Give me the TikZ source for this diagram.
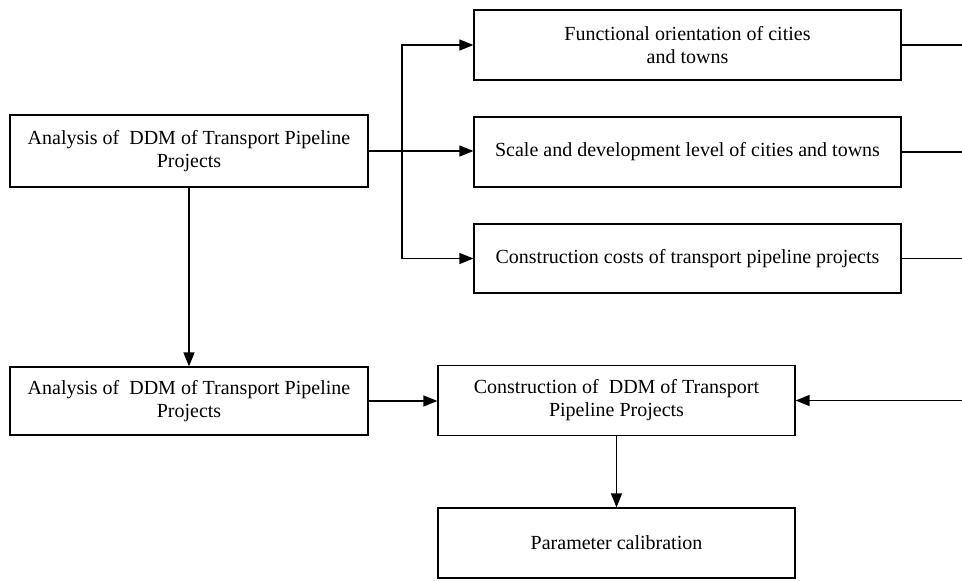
\documentclass[tikz,border=0pt]{standalone}
\usepackage{fontspec}
\setmainfont{Liberation Serif}
\usetikzlibrary{arrows.meta}
\begin{document}
\begin{tikzpicture}[x=1pt,y=-1pt,
  box/.style={draw, line width=1.2pt, align=center, inner sep=0pt,
    font=\fontsize{20}{23}\selectfont},
  arr/.style={line width=1.3pt, -{Triangle[length=14pt,width=11pt]}},
  ln/.style={line width=1.3pt}]
\useasboundingbox (0,0) rectangle (962,581);
\node[box, minimum width=358pt, minimum height=72pt] (A) at (189,151)
  {Analysis of\ \ DDM of Transport Pipeline\\Projects};
\node[box, minimum width=427pt, minimum height=70pt] (F1) at (687.5,45)
  {Functional orientation of cities\\and towns};
\node[box, minimum width=427pt, minimum height=70pt] (F2) at (687.5,152)
  {Scale and development level of cities and towns};
\node[box, minimum width=427pt, minimum height=69pt] (F3) at (687.5,258.5)
  {Construction costs of transport pipeline projects};
\node[box, minimum width=358pt, minimum height=68pt] (B) at (189,401)
  {Analysis of\ \ DDM of Transport Pipeline\\Projects};
\node[box, minimum width=357pt, minimum height=70pt] (C) at (616.5,400.5)
  {Construction of\ \ DDM of Transport\\Pipeline Projects};
\node[box, minimum width=357pt, minimum height=70pt] (D) at (616.5,543)
  {Parameter calibration};
\coordinate (j) at (402,151);
\coordinate (rr) at (962,0);
\draw[arr] (A.east) -- (A.east -| F2.west);
\draw[arr] (j) |- (F1.west);
\draw[arr] (j) |- (F3.west);
\draw[ln] (F1.east) -- (F1.east -| rr);
\draw[ln] (F2.east) -- (F2.east -| rr);
\draw[ln] (F3.east) -- (F3.east -| rr);
\draw[arr] (rr |- C.east) -- (C.east);
\draw[arr] (A.south) -- (B.north);
\draw[arr] (B.east) -- (B.east -| C.west);
\draw[arr] (C.south) -- (D.north);
\end{tikzpicture}
\end{document}
